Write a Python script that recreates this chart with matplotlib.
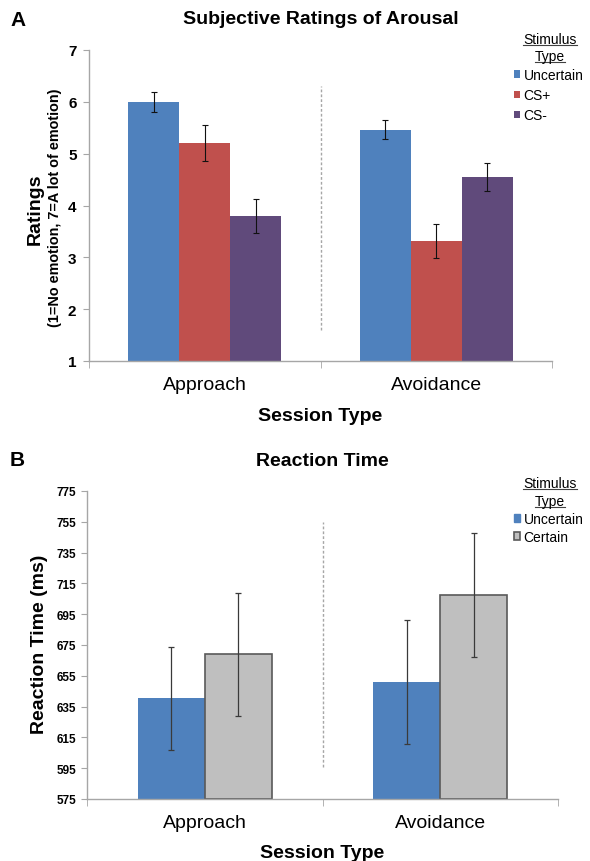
import matplotlib
matplotlib.use('Agg')
import matplotlib.pyplot as plt
from matplotlib.patches import Patch
from matplotlib.lines import Line2D
import numpy as np

plt.rcParams['font.family'] = ['Liberation Sans', 'DejaVu Sans']

sessions = ['Approach', 'Avoidance']

# panel A: subjective arousal ratings
arousal_types = ['Uncertain', 'CS+', 'CS-']
arousal_mean = {
    'Uncertain': [6.00, 5.46],
    'CS+': [5.21, 3.32],
    'CS-': [3.80, 4.55],
}
arousal_err = {
    'Uncertain': [0.19, 0.18],
    'CS+': [0.35, 0.33],
    'CS-': [0.33, 0.27],
}
arousal_colors = ['#4F81BD', '#C0504D', '#604A7B']
arousal_ticks = [1, 2, 3, 4, 5, 6, 7]
arousal_divider = (1.6, 6.3)

# panel B: reaction time
rt_types = ['Uncertain', 'Certain']
rt_mean = {
    'Uncertain': [640.5, 651.0],
    'Certain': [669.0, 707.5],
}
rt_err = {
    'Uncertain': [33.5, 40.0],
    'Certain': [40.0, 40.5],
}
rt_ticks = [575, 595, 615, 635, 655, 675, 695, 715, 735, 755, 775]
rt_divider = (596, 755)

axis_gray = '#A6A6A6'
W, H = 590, 862

fig = plt.figure(figsize=(W / 100, H / 100), dpi=100)


def style_axes(ax, yticks, tick_size, tick_pad, label_pad):
    ax.set_xlim(0, 2)
    ax.set_ylim(yticks[0], yticks[-1])
    ax.set_yticks(yticks)
    ax.set_xticks([0.5, 1.5])
    ax.set_xticklabels(sessions, fontsize=14)
    ax.set_xticks([0, 1, 2], minor=True)
    ax.tick_params(axis='x', which='major', length=0, pad=label_pad)
    ax.tick_params(axis='x', which='minor', length=5, color=axis_gray, direction='out')
    ax.tick_params(axis='y', length=4, color=axis_gray, direction='out', pad=tick_pad,
                   labelsize=tick_size)
    for lab in ax.get_yticklabels():
        lab.set_fontweight('bold')
    for side in ['top', 'right']:
        ax.spines[side].set_visible(False)
    for side in ['left', 'bottom']:
        ax.spines[side].set_color(axis_gray)
        ax.spines[side].set_linewidth(1.0)


def legend_header(ax, x_px, y1_px, y2_px):
    t1 = fig.text(x_px / W, 1 - y1_px / H, 'Stimulus', fontsize=10, ha='center', va='center')
    t2 = fig.text(x_px / W, 1 - y2_px / H, 'Type', fontsize=10, ha='center', va='center')
    fig.canvas.draw()
    r = fig.canvas.get_renderer()
    for t in [t1, t2]:
        bb = t.get_window_extent(r)
        y = bb.y0 + 1
        fig.add_artist(Line2D([bb.x0 / W, bb.x1 / W], [y / H, y / H], color='#404040', lw=0.8))


# ---------------- Panel A ----------------
axA = fig.add_axes([89 / W, 1 - 362 / H, 463 / W, 311 / H])
style_axes(axA, arousal_ticks, 11, 5, 11)
x = np.arange(len(sessions)) + 0.5
w = 0.22
for i, (name, col) in enumerate(zip(arousal_types, arousal_colors)):
    pos = x + (i - 1) * w
    axA.bar(pos, np.array(arousal_mean[name]) - arousal_ticks[0], width=w,
            bottom=arousal_ticks[0], color=col, edgecolor='none', label=name)
    axA.errorbar(pos, arousal_mean[name], yerr=arousal_err[name], fmt='none',
                 ecolor='#111111', elinewidth=0.8, capsize=2.2, capthick=0.8)
axA.vlines(1, *arousal_divider, colors=axis_gray, linestyles=(0, (2, 1.5)), lw=1)

axA.text(0.5, (362 - 20) / 311, 'Subjective Ratings of Arousal', transform=axA.transAxes,
         fontsize=14, fontweight='bold', ha='center', va='center')
axA.set_xlabel('Session Type', fontsize=14, fontweight='bold', va='center')
axA.xaxis.set_label_coords(0.5, -0.175)
axA.set_ylabel('Ratings', fontsize=14, fontweight='bold', va='center')
axA.yaxis.set_label_coords(-0.117, 0.492)
axA.text(-0.073, 0.495, '(1=No emotion, 7=A lot of emotion)', transform=axA.transAxes,
         rotation=90, fontsize=10.4, fontweight='bold', ha='center', va='center')
fig.text(10 / W, 1 - 20 / H, 'A', fontsize=15, fontweight='bold', va='center')

handlesA = [Patch(facecolor=c, edgecolor='none', label=n)
            for n, c in zip(arousal_types, arousal_colors)]
axA.legend(handles=handlesA, loc='upper left', bbox_to_anchor=(514 / W, 1 - 69 / H),
           bbox_transform=fig.transFigure, frameon=False, fontsize=10,
           handlelength=0.45, handleheight=0.45, handletextpad=0.25,
           labelspacing=0.45, borderpad=0, borderaxespad=0)

# ---------------- Panel B ----------------
axB = fig.add_axes([87 / W, 1 - 800 / H, 471 / W, 308 / H])
style_axes(axB, rt_ticks, 8.5, 4, 10.5)
w = 0.285
rt_style = {
    'Uncertain': dict(color='#4F81BD', edgecolor='none'),
    'Certain': dict(facecolor='#BFBFBF', edgecolor='#595959', linewidth=1.2),
}
for i, name in enumerate(rt_types):
    pos = x + (i - 0.5) * w
    axB.bar(pos, np.array(rt_mean[name]) - rt_ticks[0], width=w, bottom=rt_ticks[0],
            label=name, **rt_style[name])
    axB.errorbar(pos, rt_mean[name], yerr=rt_err[name], fmt='none',
                 ecolor='#3A3A3A', elinewidth=0.9, capsize=2.0, capthick=0.9)
axB.vlines(1, *rt_divider, colors=axis_gray, linestyles=(0, (2, 1.5)), lw=1)

axB.text(0.5, (800 - 462) / 308, 'Reaction Time', transform=axB.transAxes,
         fontsize=14, fontweight='bold', ha='center', va='center')
axB.set_xlabel('Session Type', fontsize=14, fontweight='bold', va='center')
axB.xaxis.set_label_coords(0.5, -0.175)
axB.set_ylabel('Reaction Time (ms)', fontsize=14, fontweight='bold', va='center')
axB.yaxis.set_label_coords(-0.1, 0.505)
fig.text(10 / W, 1 - 461 / H, 'B', fontsize=15, fontweight='bold', va='center')

handlesB = [Patch(label=n, **rt_style[n]) for n in rt_types]
axB.legend(handles=handlesB, loc='upper left', bbox_to_anchor=(514 / W, 1 - 513 / H),
           bbox_transform=fig.transFigure, frameon=False, fontsize=10,
           handlelength=0.45, handleheight=0.45, handletextpad=0.25,
           labelspacing=0.3, borderpad=0, borderaxespad=0)

legend_header(axA, 550, 40, 57)
legend_header(axB, 550, 484, 502)

fig.savefig('out.png', dpi=100)
